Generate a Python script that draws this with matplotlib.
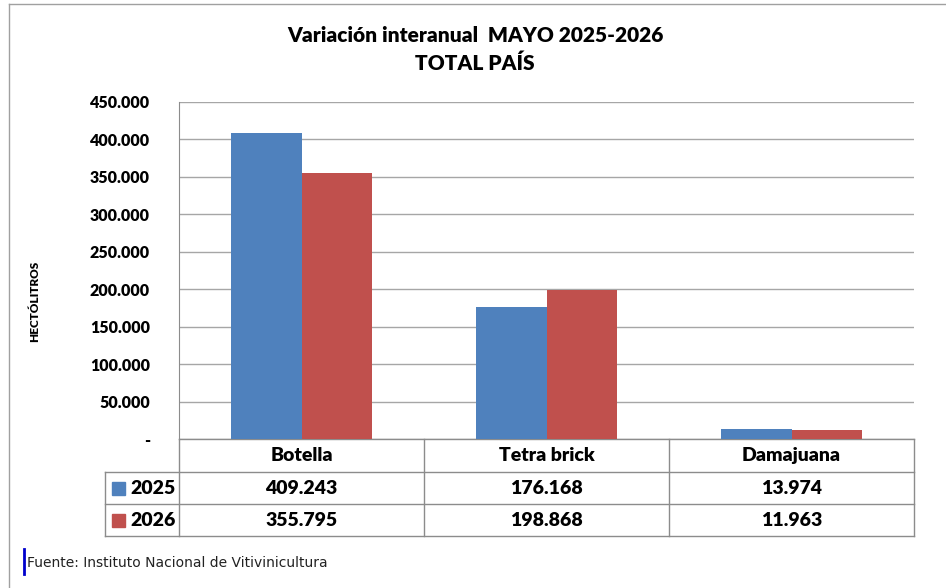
import matplotlib.pyplot as plt
from matplotlib.patches import Rectangle
from matplotlib.lines import Line2D

categories = ["Botella", "Tetra brick", "Damajuana"]
years = ["2025", "2026"]
values_2025 = [409243, 176168, 13974]
values_2026 = [355795, 198868, 11963]
colors = ["#4F81BD", "#C0504D"]
yticks = [0, 50000, 100000, 150000, 200000, 250000, 300000, 350000, 400000, 450000]


def fmt(v):
    # Spanish thousands separator, "-" for zero
    return "-" if v == 0 else f"{v:,}".replace(",", ".")


plt.rcParams["font.family"] = ["Lato", "DejaVu Sans"]

W, H = 946, 588
fig = plt.figure(figsize=(W / 100, H / 100), dpi=100)

# plot area in pixels
left, right, top, bottom = 179, 914, 102, 439
ax = fig.add_axes([left / W, 1 - bottom / H, (right - left) / W, (bottom - top) / H])

bw = 0.287
xs = range(len(categories))
for j, vals in enumerate([values_2025, values_2026]):
    ax.bar([x + (j - 0.5) * bw for x in xs], vals, width=bw, color=colors[j],
           align="center", zorder=3)

ax.set_xlim(-0.5, 2.5)
ax.set_ylim(0, 450000)
ax.set_yticks(yticks)
ax.set_yticklabels([fmt(v) for v in yticks], fontsize=11.5, fontweight="heavy")
ax.tick_params(axis="y", length=0, pad=21)
ax.set_xticks([])
ax.grid(axis="y", color="#a6a6a6", linewidth=1, zorder=0)
for s in ["top", "right", "bottom"]:
    ax.spines[s].set_visible(False)
ax.spines["left"].set_color("#8c8c8c")

# data table below the axes
ph = bottom - top
pw = right - left
row_edges = [0, -33 / ph, -65 / ph, -97 / ph]
leg_left = -74 / pw
tc = "#8c8c8c"
tr = ax.transAxes


def hline(x0, x1, y):
    ax.add_line(Line2D([x0, x1], [y, y], transform=tr, color=tc, lw=1, clip_on=False))


def vline(x, y0, y1):
    ax.add_line(Line2D([x, x], [y0, y1], transform=tr, color=tc, lw=1, clip_on=False))


hline(0, 1, row_edges[0])
for y in row_edges[1:]:
    hline(leg_left, 1, y)
vline(0, row_edges[0], row_edges[3])
vline(leg_left, row_edges[1], row_edges[3])
for k in range(1, len(categories)):
    vline(k / len(categories), row_edges[0], row_edges[3])
vline(1, row_edges[0], row_edges[3])

for i, cat in enumerate(categories):
    xc = (i + 0.5) / len(categories)
    ax.text(xc, (row_edges[0] + row_edges[1]) / 2, cat, transform=tr, ha="center",
            va="center", fontsize=14, fontweight="heavy")
    for r, vals in enumerate([values_2025, values_2026]):
        ax.text(xc, (row_edges[r + 1] + row_edges[r + 2]) / 2, fmt(vals[i]),
                transform=tr, ha="center", va="center", fontsize=14, fontweight="heavy")

for r, yr in enumerate(years):
    yc = (row_edges[r + 1] + row_edges[r + 2]) / 2
    sq = 13 / pw
    sqh = 13 / ph
    ax.add_patch(Rectangle((leg_left + 7 / pw, yc - sqh / 2), sq, sqh, transform=tr,
                           color=colors[r], clip_on=False))
    ax.text(leg_left + 25 / pw, yc, yr, transform=tr, ha="left", va="center",
            fontsize=14, fontweight="heavy")

# titles and labels
fig.text(475 / W, 1 - 35 / H, "Variación interanual  MAYO 2025-2026", ha="center",
         va="center", fontsize=15, fontweight="heavy")
fig.text(475 / W, 1 - 63 / H, "TOTAL PAÍS", ha="center", va="center",
         fontsize=15, fontweight="heavy")
fig.text(35 / W, 1 - 301 / H, "HECTÓLITROS", rotation=90, ha="center", va="center",
         fontsize=8.5, fontweight="heavy")

# outer chart border (only left and top visible in the crop)
fig.add_artist(Line2D([9 / W, 9 / W], [0, 1 - 4 / H], color="#a0a0a0", lw=1))
fig.add_artist(Line2D([9 / W, 1], [1 - 4 / H, 1 - 4 / H], color="#a0a0a0", lw=1))

# source note
fig.add_artist(Line2D([23.5 / W, 23.5 / W], [1 - 574 / H, 1 - 549 / H], color="#0000cc", lw=2))
fig.text(27 / W, 1 - 563 / H, "Fuente: Instituto Nacional de Vitivinicultura",
         ha="left", va="center", fontsize=10, family="DejaVu Sans", color="#222222")

fig.savefig("out.png", dpi=100)
